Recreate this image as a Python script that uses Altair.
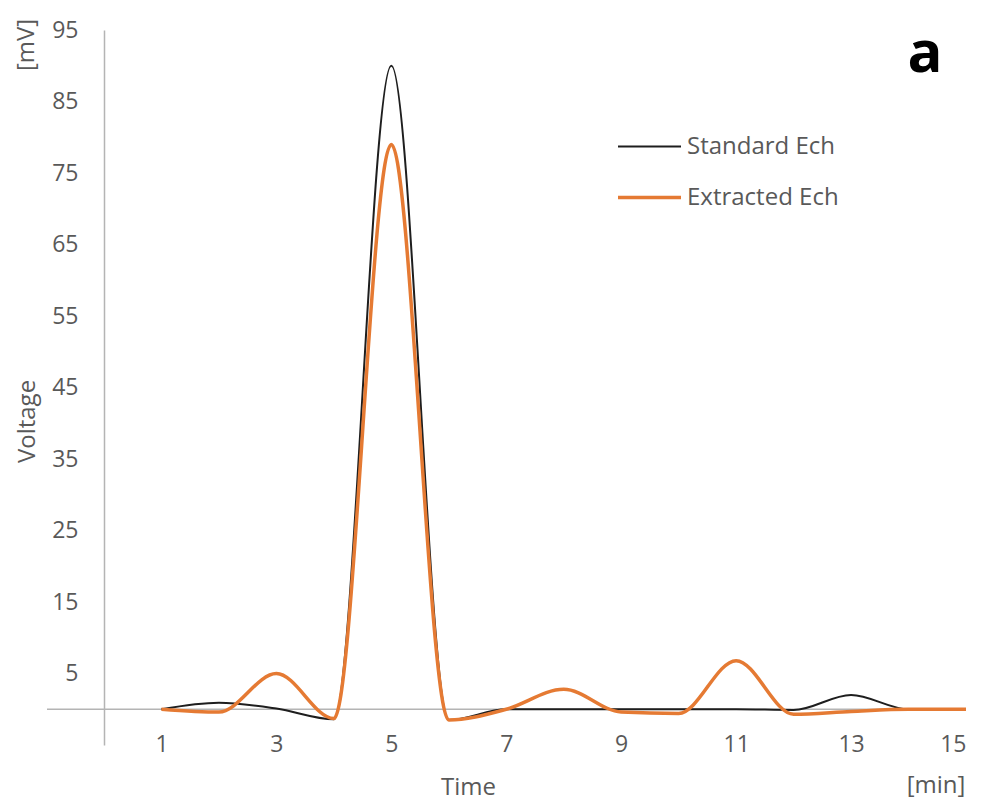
import altair as alt
import pandas as pd

# ---- data ----
time_min = [1, 2, 3, 4, 5, 6, 7, 8, 9, 10, 11, 12, 13, 14, 15]
standard_ech = [0, 0.9, 0.1, -1.4, 90, -1.5, 0, 0, 0, 0, 0, -0.1, 2, 0, 0]
extracted_ech = [0, -0.4, 5.0, -1.3, 79, -1.5, 0, 2.8, -0.4, -0.6, 6.8, -0.7, -0.3, 0, 0]
series_names = ["Standard Ech", "Extracted Ech"]
series_colors = ["#1E1E1E", "#E57A33"]
series_widths = [2, 3.5]
x_ticks = [1, 3, 5, 7, 9, 11, 13, 15]
y_ticks = [5, 15, 25, 35, 45, 55, 65, 75, 85, 95]

rows = []
for name, vals in zip(series_names, [standard_ech, extracted_ech]):
    for t, v in zip(time_min, vals):
        rows.append({"Time": t, "Voltage": v, "Series": name})
df = pd.DataFrame(rows)

FONT = "Open Sans"
TXT = "#595959"
AX = "#B4B4B4"
W, H = 862, 715

xscale = alt.Scale(domain=[0, 15], nice=False, zero=False)
yscale = alt.Scale(domain=[-5, 95], nice=False, zero=False)

lines = alt.Chart(df).mark_line(interpolate="monotone").encode(
    x=alt.X("Time:Q", scale=xscale,
            axis=alt.Axis(values=x_ticks, title="Time", grid=False, domain=False,
                          ticks=False, tickSize=0, labelPadding=-12,
                          labelFontSize=23, labelFont=FONT, labelColor=TXT,
                          titleFont=FONT, titleFontSize=24, titleColor=TXT,
                          titleFontWeight="normal", titleX=364, titleY=42,
                          titleBaseline="middle", titleAlign="center")),
    y=alt.Y("Voltage:Q", scale=yscale,
            axis=alt.Axis(values=y_ticks, title="Voltage", grid=False, domain=True,
                          domainColor=AX, domainWidth=1.5,
                          ticks=False, tickSize=0, labelPadding=26,
                          labelFontSize=23, labelFont=FONT, labelColor=TXT,
                          titleFont=FONT, titleFontSize=24, titleColor=TXT,
                          titleFontWeight="normal", titleX=-77, titleY=391,
                          titleAngle=270, titleBaseline="middle", titleAlign="center")),
    color=alt.Color("Series:N", scale=alt.Scale(domain=series_names, range=series_colors),
                    legend=alt.Legend(title=None, orient="none", legendX=512, legendY=84,
                                      symbolType="stroke", symbolSize=3969,
                                      labelFont=FONT, labelFontSize=24, labelColor=TXT,
                                      labelOffset=4, rowPadding=5)),
    strokeWidth=alt.StrokeWidth("Series:N",
                                scale=alt.Scale(domain=series_names, range=series_widths),
                                legend=None),
    order=alt.Order("Time:Q"),
)

zero_rule = alt.Chart(pd.DataFrame({"v": [0]})).mark_rule(color=AX, strokeWidth=1.5).encode(
    y=alt.Y("v:Q", scale=yscale),
    x=alt.value(-57),
    x2=alt.value(W),
)

ann = pd.DataFrame({"t": ["a"]})
label_a = alt.Chart(ann).mark_text(font=FONT, fontSize=58, fontWeight="bold",
                                   color="#000000", align="center",
                                   baseline="alphabetic").encode(
    text="t:N", x=alt.value(821), y=alt.value(42))

unit_mv = alt.Chart(pd.DataFrame({"t": ["[mV]"]})).mark_text(
    font=FONT, fontSize=24, color=TXT, angle=270, align="center", baseline="middle"
).encode(text="t:N", x=alt.value(-77), y=alt.value(15))

unit_min = alt.Chart(pd.DataFrame({"t": ["[min]"]})).mark_text(
    font=FONT, fontSize=24, color=TXT, align="center", baseline="middle"
).encode(text="t:N", x=alt.value(832), y=alt.value(756))

chart = alt.layer(zero_rule, lines, label_a, unit_mv, unit_min).properties(
    width=W, height=H,
    autosize=alt.AutoSizeParams(type="none"),
    padding={"left": 104, "top": 30, "right": 19, "bottom": 56},
    background="white",
).configure_view(stroke=None)

chart.save("out.html", embed_options={"renderer": "svg", "actions": False})
